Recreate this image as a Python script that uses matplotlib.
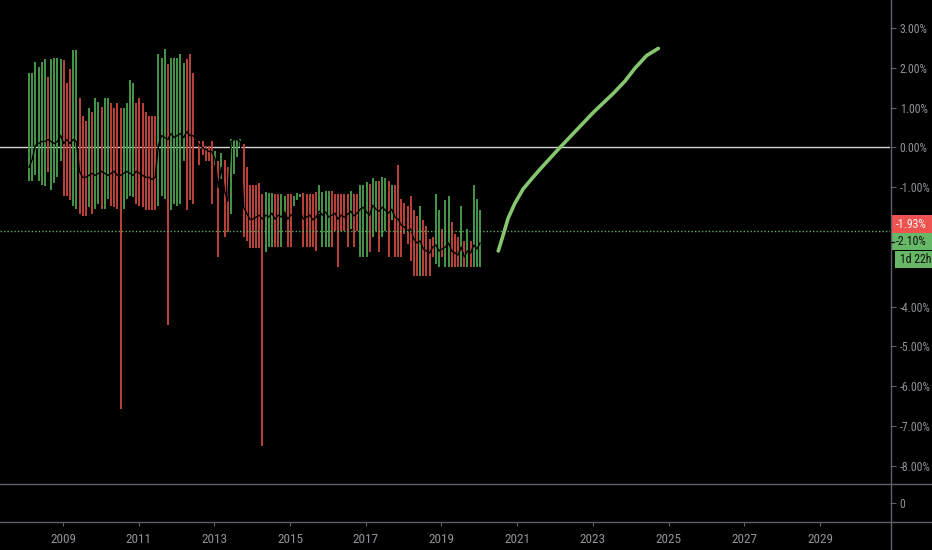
import numpy as np
import matplotlib
matplotlib.use("Agg")
import matplotlib.pyplot as plt
from matplotlib.lines import Line2D
from matplotlib.patches import Rectangle

plt.rcParams['font.family'] = ['Roboto Condensed', 'PT Sans Narrow', 'Archivo Narrow',
                               'Liberation Sans Narrow', 'DejaVu Sans']

# monthly bars, first one Feb 2008 (values in %)
bar_high = [1.87, 1.87, 2.14, 2.02, 2.14, 2.22, 1.77, 2.22, 2.24, 2.24, 2.22, 2.19, 1.62, 1.98, 2.45, 2.45,
            1.25, 0.78, 0.66, 1.00, 0.89, 1.25, 1.14, 1.01, 1.25, 1.25, 1.11, 1.00, 1.11, 1.00, 1.00, 1.11,
            1.70, 1.62, 1.11, 1.25, 1.11, 0.88, 0.78, 0.78, 0.78, 2.35, 2.24, 2.48, 2.10, 2.24, 2.24, 2.24,
            2.35, 2.12, 2.23, 2.35, 1.87, 0.22, 0.16, 0.17, 0.05, 0.05, 0.16, -0.08, -0.33, -0.13, -0.31, -0.49,
            0.22, 0.22, 0.22, 0.22, 0.08, -0.49, -0.93, -0.93, -0.93, -0.90, -1.16, -1.13, -1.14, -1.14, -1.18, -1.18,
            -1.18, -1.21, -1.18, -1.18, -1.21, -1.15, -1.18, -1.15, -1.18, -1.18, -1.18, -1.12, -0.95, -1.12, -1.10, -1.10,
            -1.10, -1.18, -1.18, -1.18, -1.18, -1.18, -1.10, -1.18, -1.18, -0.93, -0.93, -0.87, -0.91, -0.76, -0.83, -0.83,
            -0.73, -0.76, -0.83, -0.93, -0.93, -0.43, -1.29, -1.40, -1.46, -1.21, -1.58, -1.71, -1.46, -1.82, -1.96, -2.29,
            -2.25, -1.18, -1.58, -2.04, -1.33, -1.21, -1.88, -2.17, -2.24, -1.46, -2.35, -2.04, -2.34, -0.95, -1.29, -1.58]
bar_low = [-0.83, -0.83, -0.70, -0.83, -0.95, -0.97, -0.62, -1.08, -0.90, -0.75, -0.33, -1.21, -1.21, -1.33, -1.46, -1.54,
           -1.67, -1.71, -1.71, -1.50, -1.67, -1.54, -1.42, -1.54, -1.54, -1.29, -1.46, -1.50, -1.54, -6.56, -1.54, -1.29,
           -1.23, -1.25, -1.42, -1.46, -1.50, -1.57, -1.58, -1.58, -1.58, -1.46, -1.21, -1.29, -4.47, -1.58, -1.42, -1.46,
           -1.42, -0.33, -1.58, -1.31, -1.41, 0.18, -0.45, -0.20, -0.33, -0.33, -1.41, -0.45, -2.76, -0.79, -2.25, -2.13,
           -1.67, -0.66, -0.24, 0.01, -2.25, -2.34, -2.52, -2.52, -2.52, -2.52, -7.49, -2.63, -2.50, -2.50, -2.50, -2.50,
           -2.50, -1.67, -2.50, -2.50, -1.47, -1.33, -1.25, -2.50, -2.50, -2.50, -2.50, -2.59, -1.67, -2.50, -2.50, -2.50,
           -2.50, -2.09, -3.01, -2.09, -2.09, -2.50, -2.04, -2.50, -2.09, -2.76, -2.76, -2.76, -2.63, -2.25, -2.09, -2.63,
           -2.25, -2.09, -2.76, -1.83, -2.76, -2.76, -2.76, -2.17, -2.42, -2.84, -3.24, -3.24, -3.24, -3.24, -3.24, -3.24,
           -2.76, -2.92, -3.01, -2.76, -3.01, -3.01, -3.01, -3.01, -3.01, -3.01, -3.01, -3.01, -3.01, -3.01, -3.01, -3.01]
bar_close = [-0.50, -0.30, 0.05, 0.10, 0.15, 0.15, 0.20, 0.15, 0.10, 0.15, 0.30, 0.10, 0.20, 0.10, 0.20, 0.15,
             -0.60, -0.75, -0.75, -0.70, -0.65, -0.70, -0.65, -0.60, -0.65, -0.70, -0.65, -0.60, -0.70, -0.70, -0.65, -0.60,
             -0.65, -0.70, -0.60, -0.65, -0.70, -0.75, -0.75, -0.80, -0.75, 0.05, 0.30, 0.25, 0.20, 0.35, 0.25, 0.30,
             0.35, 0.25, 0.40, 0.30, 0.30, 0.20, 0.05, 0.00, -0.05, -0.10, -0.10, -0.30, -1.00, -0.50, -1.10, -1.35,
             0.15, 0.20, 0.20, 0.15, -1.50, -1.65, -1.80, -1.80, -1.75, -1.70, -1.80, -1.70, -1.75, -1.65, -1.80, -1.70,
             -1.75, -1.62, -1.80, -1.70, -1.65, -1.75, -1.62, -1.80, -1.75, -1.70, -1.82, -1.75, -1.60, -1.70, -1.62, -1.75,
             -1.70, -1.65, -1.80, -1.70, -1.75, -1.68, -1.60, -1.72, -1.65, -1.55, -1.50, -1.62, -1.70, -1.45, -1.55, -1.60,
             -1.50, -1.58, -1.65, -1.55, -1.75, -1.80, -1.95, -2.00, -2.10, -2.05, -2.30, -2.40, -2.35, -2.55, -2.60, -2.65,
             -2.50, -2.45, -2.60, -2.55, -2.50, -2.40, -2.60, -2.65, -2.70, -2.50, -2.75, -2.60, -2.65, -2.45, -2.55, -2.40]
bar_dir = ("GGGGGGRGGGGRRRGGRRRGRGGRGGRRRRGGGGRRRRRRRGGGRGGGGGRRRGRRRRRGRGRRGGGGRRRRRRR"
           "GGGRRGGRRGGGRRRRRGGGGRRRRRRGRRGGGRGGRGGRGRRRRRRRRGRRRRGGRGGRRRGRGRGGG")

# drawn forecast curve
curve_x = [2020.50, 2020.63, 2020.76, 2020.94, 2021.16, 2021.38, 2021.60, 2021.84, 2022.09,
           2022.53, 2023.01, 2023.54, 2023.85, 2024.11, 2024.42, 2024.73]
curve_y = [-2.60, -2.20, -1.78, -1.40, -1.04, -0.79, -0.55, -0.30, -0.04,
           0.40, 0.88, 1.36, 1.67, 1.99, 2.31, 2.49]

y_ticks = [3, 2, 1, 0, -1, -4, -5, -6, -7, -8]
year_ticks = [2009, 2011, 2013, 2015, 2017, 2019, 2021, 2023, 2025, 2027, 2029]
last_price = -2.10
other_price = -1.93

W, H = 932, 550
bg = 'black'
txt = '#8f929b'
line_c = '#5d606b'
up_c = '#45974a'
dn_c = '#bd423b'

fig = plt.figure(figsize=(W / 100, H / 100), dpi=100, facecolor=bg)
ax = fig.add_axes([0, (H - 484) / H, 890 / W, 484 / H], facecolor=bg)
ax2 = fig.add_axes([0, (H - 522) / H, 890 / W, 38 / H], facecolor=bg, sharex=ax)

x = 2008 + (np.arange(len(bar_high)) + 1) / 12 + 0.02
cols = [up_c if c == 'G' else dn_c for c in bar_dir]
ax.vlines(x, bar_low, bar_high, colors=cols, linewidth=1.4, zorder=2)
ax.plot(x, bar_close, color='black', linewidth=1.0, zorder=3)

ax.axhline(0, color='#d6d6d6', linewidth=1.0, zorder=1)
ax.axhline(last_price, color='#5fae5f', linewidth=1.0, linestyle=(0, (1, 1.5)), zorder=4)
ax.plot(curve_x, curve_y, color='#86c66e', linewidth=2.6, solid_capstyle='round',
        solid_joinstyle='round', zorder=5)

ax.set_xlim(2007.336, 2030.85)
ax.set_ylim(-8.455, 3.706)
for s in ax.spines.values():
    s.set_visible(False)
ax.yaxis.tick_right()
ax.set_yticks(y_ticks)
ax.set_yticklabels([f"{v:.2f}%" for v in y_ticks])
ax.tick_params(axis='y', colors=txt, labelsize=8.5, length=4, width=0.8, pad=3, color=line_c)
ax.tick_params(axis='x', bottom=False, labelbottom=False)

ax2.set_ylim(-1, 1)
for s in ax2.spines.values():
    s.set_visible(False)
ax2.yaxis.tick_right()
ax2.set_yticks([0])
ax2.set_yticklabels(['0'])
ax2.tick_params(axis='y', colors=txt, labelsize=8.5, length=4, width=0.8, pad=3, color=line_c)
ax2.set_xticks(year_ticks)
ax2.set_xticklabels([str(v) for v in year_ticks])
ax2.tick_params(axis='x', colors=txt, labelsize=9.5, length=3, width=0.8, pad=5, color=line_c)

# panel separators and price scale line
for yy in (484, 522):
    fig.add_artist(Line2D([0, 1], [1 - yy / H, 1 - yy / H], transform=fig.transFigure,
                          color=line_c, linewidth=1.0))
fig.add_artist(Line2D([890.5 / W, 890.5 / W], [0, 1], transform=fig.transFigure,
                      color=line_c, linewidth=1.0))

# price labels on the scale
def tag(y0, y1, x0, color, text, tcol):
    fig.add_artist(Rectangle((x0 / W, 1 - y1 / H), (W - x0) / W, (y1 - y0) / H,
                             transform=fig.transFigure, facecolor=color, edgecolor='none'))
    fig.text((x0 + 5) / W, 1 - (y0 + y1) / 2 / H, text, color=tcol, fontsize=8.5,
             va='center', ha='left')

tag(215, 233, 891, '#ef5350', f"{other_price:.2f}%", '#f5f5f5')
tag(233, 250, 891, '#66b866', f"{last_price:.2f}%", '#101010')
tag(251, 268, 895, '#66b866', '1d 22h', '#101010')
fig.add_artist(Line2D([890 / W, 894 / W], [1 - 241.5 / H, 1 - 241.5 / H], transform=fig.transFigure,
                      color='#101010', linewidth=1.0))

fig.savefig('out.png', dpi=100, facecolor=bg)
